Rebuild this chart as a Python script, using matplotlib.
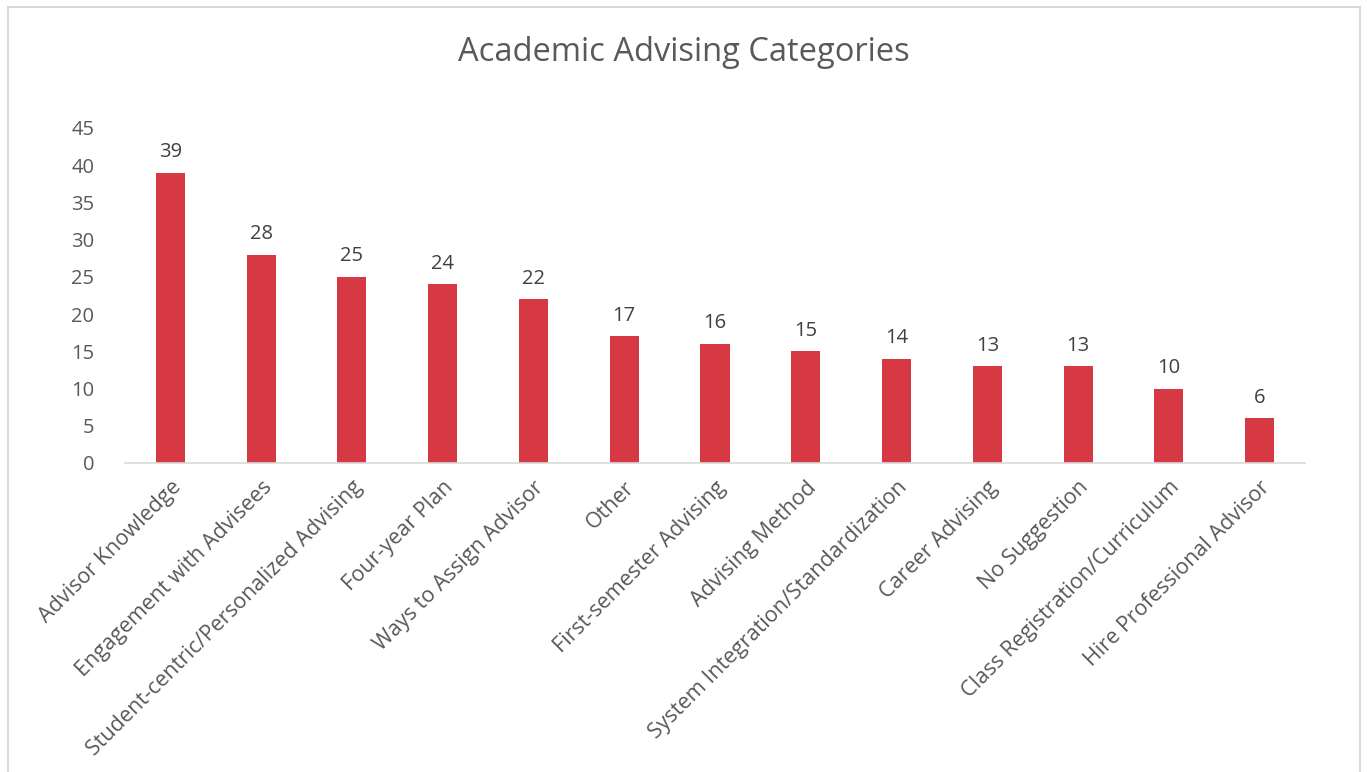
import matplotlib
matplotlib.use('Agg')
import matplotlib.pyplot as plt
from matplotlib.patches import Rectangle

plt.rcParams['font.family'] = ['Open Sans', 'DejaVu Sans']

categories = ['Advisor Knowledge', 'Engagement with Advisees',
              'Student-centric/Personalized Advising', 'Four-year Plan',
              'Ways to Assign Advisor', 'Other', 'First-semester Advising',
              'Advising Method', 'System Integration/Standardization',
              'Career Advising', 'No Suggestion',
              'Class Registration/Curriculum', 'Hire Professional Advisor']
counts = [39, 28, 25, 24, 22, 17, 16, 15, 14, 13, 13, 10, 6]
yticks = [0, 5, 10, 15, 20, 25, 30, 35, 40, 45]

bar_color = '#D63944'
text_color = '#595959'

fig = plt.figure(figsize=(13.67, 7.72), dpi=100, facecolor='white')
ax = fig.add_axes([0.0914, 0.4003, 0.8633, 0.4339])

x = range(len(categories))
ax.bar(x, counts, width=0.32, color=bar_color, zorder=2)
for xi, v in zip(x, counts):
    ax.text(xi, v + 1.4, str(v), ha='center', va='bottom',
            fontsize=14.5, color='#404040')

ax.set_xlim(-0.5, len(categories) - 0.5)
ax.set_ylim(0, 45)
ax.set_yticks(yticks)
ax.set_yticklabels([str(t) for t in yticks], fontsize=14.5, color=text_color)
ax.set_xticks(list(x))
ax.set_xticklabels(categories, rotation=45, ha='right', rotation_mode='anchor',
                   fontsize=15.5, color=text_color)
ax.tick_params(axis='both', length=0)
ax.tick_params(axis='y', pad=22)
ax.tick_params(axis='x', pad=10)

for side in ['top', 'right', 'left']:
    ax.spines[side].set_visible(False)
ax.spines['bottom'].set_color('#D9D9D9')
ax.spines['bottom'].set_linewidth(1.2)

fig.text(0.5, 0.932, 'Academic Advising Categories', ha='center', va='center',
         fontsize=23.5, color=text_color)

# chart frame
fig.patches.append(Rectangle((8 / 1367, -0.05), 1352 / 1367, 1.05 - 7 / 772,
                             transform=fig.transFigure, fill=False,
                             edgecolor='#D9D9D9', linewidth=1.5))

fig.savefig('out.png', dpi=100, facecolor='white')
